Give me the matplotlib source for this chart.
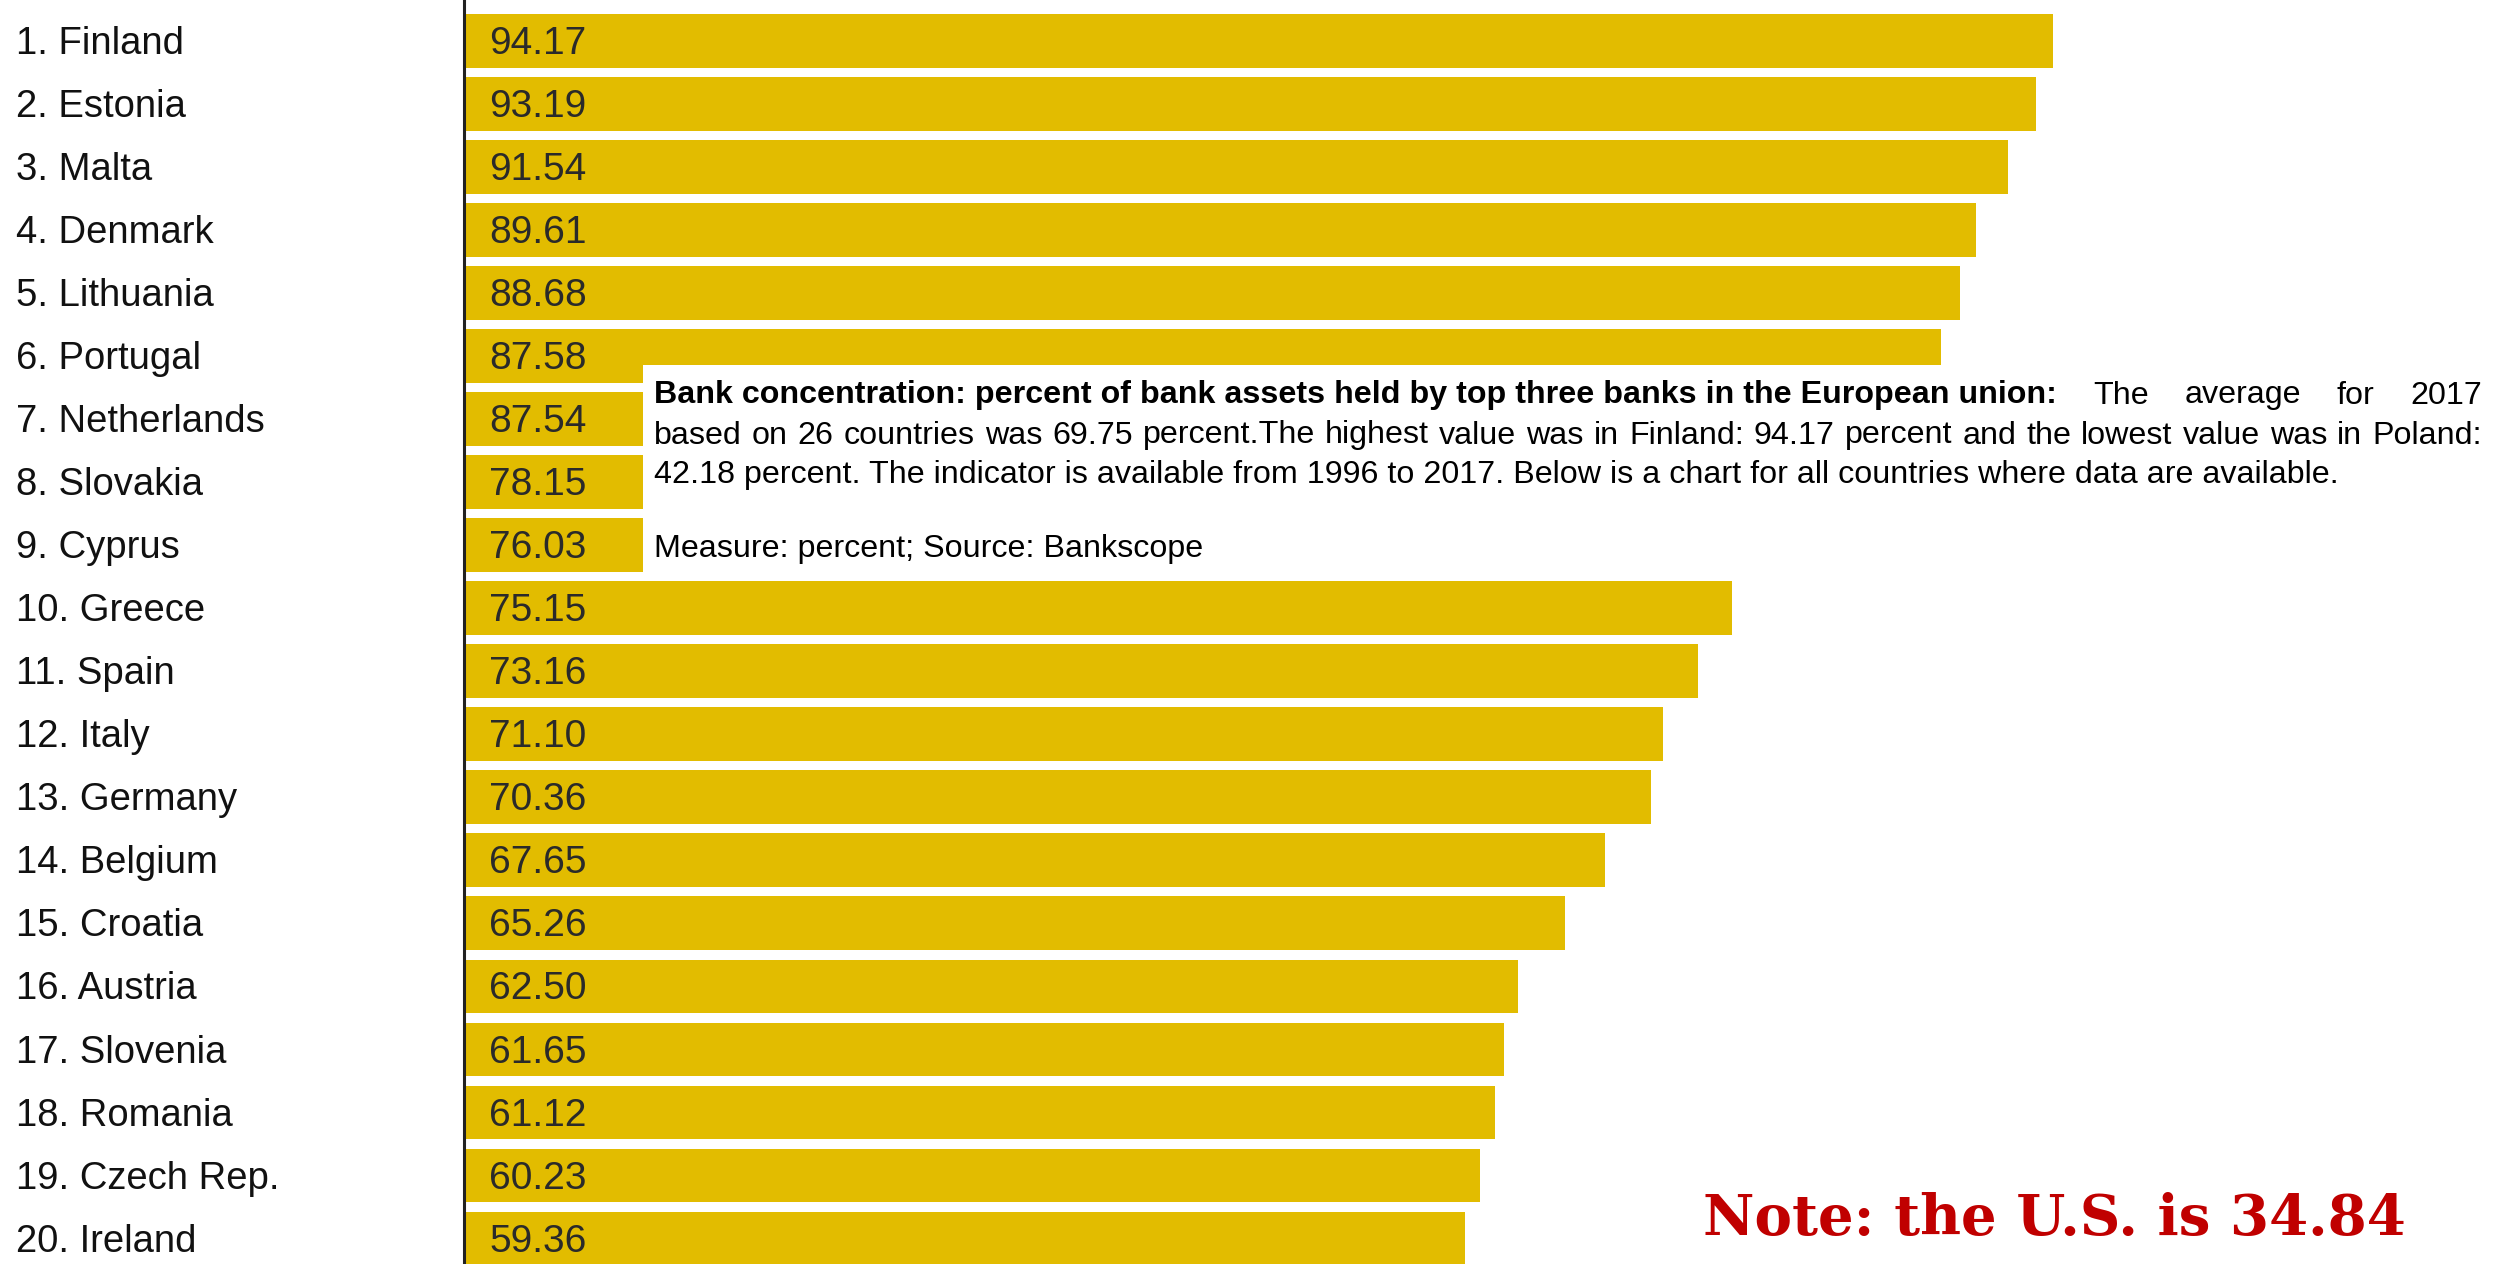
import matplotlib.pyplot as plt
from matplotlib.patches import Rectangle

# bank concentration, top three banks share of assets, 2017
countries = ["Finland", "Estonia", "Malta", "Denmark", "Lithuania", "Portugal",
             "Netherlands", "Slovakia", "Cyprus", "Greece", "Spain", "Italy",
             "Germany", "Belgium", "Croatia", "Austria", "Slovenia", "Romania",
             "Czech Rep.", "Ireland"]
values = [94.17, 93.19, 91.54, 89.61, 88.68, 87.58, 87.54, 78.15, 76.03, 75.15,
          73.16, 71.10, 70.36, 67.65, 65.26, 62.50, 61.65, 61.12, 60.23, 59.36]

note = "Note: the U.S. is 34.84"
desc_bold = "Bank concentration: percent of bank assets held by top three banks in the European union:"
desc_line1 = ["The", "average", "for", "2017"]
desc_line2 = ("based on 26 countries was 69.75 percent.The highest value was in Finland: "
              "94.17 percent and the lowest value was in Poland:")
desc_line3 = ("42.18 percent. The indicator is available from 1996 to 2017. "
              "Below is a chart for all countries where data are available.")
desc_source = "Measure: percent; Source: Bankscope"

W, H = 2501, 1264
bar_color = "#E2BC00"
plt.rcParams['font.family'] = ['Liberation Sans', 'DejaVu Sans']

fig = plt.figure(figsize=(W / 100, H / 100), dpi=100)
ax = fig.add_axes([464 / W, 0, 1 - 464 / W, 1])

pos = list(range(len(countries)))
ax.barh(pos, values, height=0.85, color=bar_color, zorder=2)
ax.set_xlim(0, (W - 464) / 16.87)
ax.set_ylim(19.405, -0.646)

# small downward nudge so text sits like the original
dy = 0.05
for p, v in zip(pos, values):
    ax.text(1.5, p + dy, f"{v:.2f}", va='center', ha='left', fontsize=28,
            color='#2a2a2a', zorder=3)

ax.set_yticks([])
ax.set_xticks([])
for s in ['top', 'right', 'bottom']:
    ax.spines[s].set_visible(False)
ax.spines['left'].set_linewidth(2.2)
ax.spines['left'].set_color('#222222')

# country names on the left
for p, c in zip(pos, countries):
    ax.text(-464 / 16.87 + 16 / 16.87, p + dy, f"{p + 1}. {c}", va='center', ha='left',
            fontsize=27.5, color='#111111', clip_on=False)

# white description box
fig.patches.append(Rectangle((643 / W, 1 - 575 / H), (W - 643) / W, (575 - 365) / H,
                             transform=fig.transFigure, facecolor='white',
                             edgecolor='none', zorder=5))

renderer = fig.canvas.get_renderer()
fs = 23.2
x0, x1 = 654, 2482


def justify(parts, y):
    arts = [fig.text(x0 / W, 1 - y / H, t, fontsize=fs, fontweight=w,
                     va='center_baseline', ha='left', color='black', zorder=6)
            for t, w in parts]
    widths = [a.get_window_extent(renderer).width for a in arts]
    gap = (x1 - x0 - sum(widths)) / (len(arts) - 1)
    x = x0
    for a, w in zip(arts, widths):
        a.set_x(x / W)
        x += w + gap


justify([(desc_bold, 'bold')] + [(t, 'normal') for t in desc_line1], 392)
justify([(t, 'normal') for t in desc_line2.split(' ')], 432)
fig.text(x0 / W, 1 - 471 / H, desc_line3, fontsize=fs, va='center_baseline',
         ha='left', color='black', zorder=6)
fig.text(x0 / W, 1 - 545 / H, desc_source, fontsize=fs, va='center_baseline',
         ha='left', color='black', zorder=6)

# red note bottom right
fig.text(1703 / W, 1 - 1219 / H, note, fontsize=40.5, fontweight='bold',
         family=['DejaVu Serif'], color='#C00000', va='center', ha='left',
         zorder=6, bbox=dict(facecolor='white', edgecolor='none', pad=12))

fig.savefig("out.png", dpi=100)
